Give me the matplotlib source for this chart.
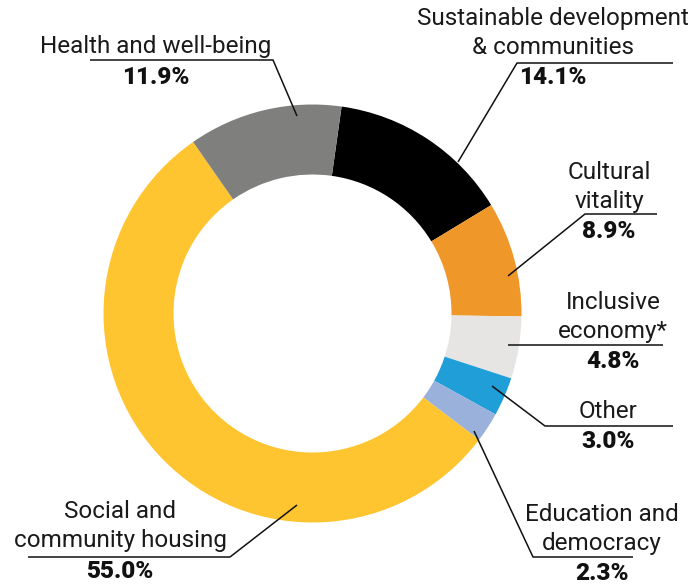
import matplotlib
matplotlib.use("Agg")
import matplotlib.pyplot as plt

categories = ["Sustainable development\n& communities", "Cultural\nvitality", "Inclusive\neconomy*",
              "Other", "Education and\ndemocracy", "Social and\ncommunity housing", "Health and well-being"]
values = [14.1, 8.9, 4.8, 3.0, 2.3, 55.0, 11.9]
pct_labels = ["14.1%", "8.9%", "4.8%", "3.0%", "2.3%", "55.0%", "11.9%"]
colors = ["#000000", "#F0972A", "#E6E5E3", "#1F9ED7", "#9AB1DB", "#FFC530", "#7F807E"]

W, H = 690, 584
fig = plt.figure(figsize=(W / 100, H / 100), dpi=100)
ax = fig.add_axes([0, 0, 1, 1])

cx, cy = 312.5, H - 313.5
R, r = 209, 139
ax.pie(values, colors=colors, startangle=82, counterclock=False, radius=R,
       center=(cx, cy), wedgeprops=dict(width=R - r, linewidth=0), frame=True)
ax.set_xlim(0, W)
ax.set_ylim(0, H)
ax.set_aspect("auto")
ax.axis("off")

font = "Roboto"
fs = 17.5

def Y(y):
    return H - y

# label layouts: (text center x, name center y, pct center y, leader polyline)
layouts = [
    (553, 33, 78, [(458, 162), (517, 63), (673, 63)]),
    (609, 187, 231, [(508, 276), (585, 214), (657, 214)]),
    (613, 317, 362, [(508, 345), (663, 345)]),
    (608, 412, 442, [(492, 386), (545, 426), (673, 426)]),
    (602, 529, 573, [(474, 431), (533, 557), (633, 557)]),
    (120, 526, 572, [(297, 505), (230, 557), (28, 557)]),
    (156, 47, 77, [(297, 116), (273, 60), (90, 60)]),
]

for cat, pct, (tx, ny, py, pts) in zip(categories, pct_labels, layouts):
    ax.text(tx, Y(ny), cat, ha="center", va="center", fontsize=fs, family=font,
            color="#1a1a1a", linespacing=1.28, fontweight="normal")
    ax.text(tx, Y(py), pct, ha="center", va="center", fontsize=fs, family=font,
            fontweight="black", color="#111111")
    xs = [p[0] for p in pts]
    ys = [Y(p[1]) for p in pts]
    ax.plot(xs, ys, color="#111111", lw=1.1, solid_capstyle="butt")

fig.savefig("out.png", dpi=100)
